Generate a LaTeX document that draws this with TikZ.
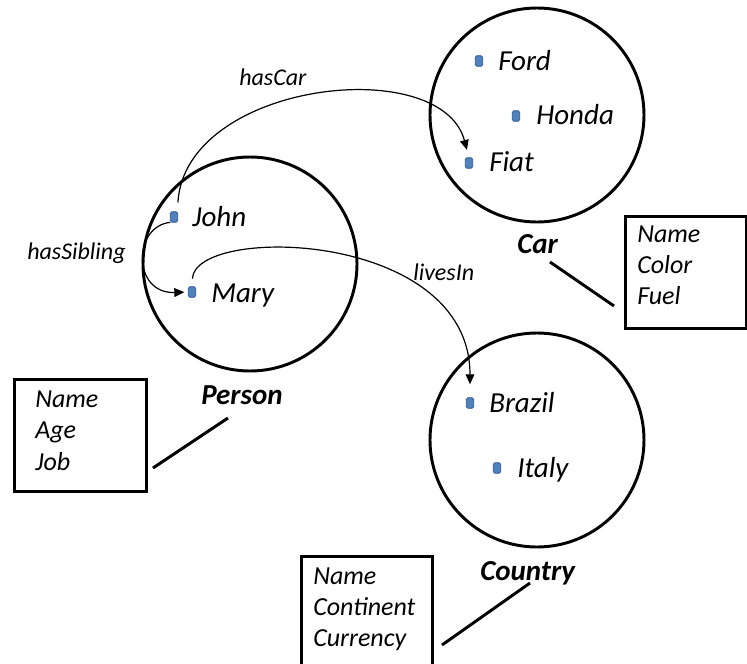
\documentclass[tikz,border=0pt]{standalone}
\usepackage{fontspec}
\setmainfont{Carlito}
\usetikzlibrary{arrows.meta}
\definecolor{bulletfill}{RGB}{79,129,189}
\definecolor{bulletedge}{RGB}{47,82,143}
\begin{document}
\begin{tikzpicture}[x=0.75pt,y=-0.75pt,
  setcircle/.style={circle,draw,line width=2.2pt,minimum size=160.5pt,inner sep=0pt},
  bullet/.style={rectangle,rounded corners=1.2pt,fill=bulletfill,draw=bulletedge,
    line width=0.6pt,minimum width=5.5pt,minimum height=8pt,inner sep=0pt,outer sep=0pt},
  item/.style={anchor=base west,inner sep=0pt,font=\fontsize{21.75}{26}\selectfont\itshape},
  relname/.style={anchor=base west,inner sep=0pt,font=\fontsize{18}{22}\selectfont\itshape},
  classname/.style={anchor=base west,inner sep=0pt,font=\fontsize{21.75}{26}\selectfont\bfseries\itshape},
  attrbox/.style={draw,line width=2.2pt,rectangle,anchor=north west,inner sep=0pt},
  attrtext/.style={anchor=base west,inner sep=0pt,font=\fontsize{19.5}{23}\selectfont\itshape},
  relation/.style={line width=0.9pt,-{Triangle[length=7.5pt,width=6.5pt]}},
  leader/.style={line width=2.2pt}
]
\useasboundingbox (0,0) rectangle (747,664);

% class extents
\node[setcircle] (carset) at (537,115) {};
\node[setcircle] (personset) at (250,264) {};
\node[setcircle] (countryset) at (537,440) {};

% members
\node[bullet] (ford) at (479,61) {};
\node[item] (fordtxt) at (498,70) {Ford};
\node[bullet] (honda) at (516,116) {};
\node[item] (hondatxt) at (536,124) {Honda};
\node[bullet] (fiat) at (469,163) {};
\node[item] (fiattxt) at (489,171) {Fiat};

\node[bullet] (john) at (174,217) {};
\node[item] (johntxt) at (192,226) {John};
\node[bullet] (mary) at (192,292) {};
\node[item] (marytxt) at (211,302) {Mary};

\node[bullet] (brazil) at (470,403) {};
\node[item] (braziltxt) at (489,412) {Brazil};
\node[bullet] (italy) at (497,468) {};
\node[item] (italytxt) at (517,477) {Italy};

% class names
\node[classname] (carname) at (517,253) {Car};
\node[classname] (personname) at (201,404) {Person};
\node[classname] (countryname) at (480,580) {Country};

% attribute boxes
\node[attrbox,minimum width=99pt,minimum height=84pt] (personattr) at (13,378) {};
\node[attrtext] (pa1) at (35,407) {Name};
\node[attrtext] (pa2) at (35,438) {Age};
\node[attrtext] (pa3) at (35,470) {Job};

\node[attrbox,minimum width=91pt,minimum height=84pt] (carattr) at (624,215) {};
\node[attrtext] (ca1) at (637,242) {Name};
\node[attrtext] (ca2) at (637,273) {Color};
\node[attrtext] (ca3) at (637,304) {Fuel};

\node[attrbox,minimum width=98pt,minimum height=90pt] (countryattr) at (300,555) {};
\node[attrtext] (ya1) at (313,584) {Name};
\node[attrtext] (ya2) at (313,615) {Continent};
\node[attrtext] (ya3) at (313,646) {Currency};

% leader lines from the class names to their attribute boxes
\coordinate (personleadA) at (153,468);
\coordinate (personleadB) at (228,418);
\coordinate (carleadA) at (550,262);
\coordinate (carleadB) at (614,306);
\coordinate (countryleadA) at (442,645);
\coordinate (countryleadB) at (530,583);
\draw[leader] (personleadA) -- (personleadB);
\draw[leader] (carleadA) -- (carleadB);
\draw[leader] (countryleadA) -- (countryleadB);

% relations
\draw[relation,shorten <=7pt,shorten >=6pt]
  ([xshift=2.5pt]john.north) .. controls +(8,-130) and +(-28,-105) .. (fiat.north);
\draw[relation,shorten >=3pt]
  (john.south west) .. controls +(-38,4) and +(-56,2) .. (mary.west);
\draw[relation,shorten <=6pt,shorten >=10pt]
  (mary.north) .. controls +(3,-62) and +(0,-168) .. (brazil.north);

\node[relname] (hascar) at (239,85) {hasCar};
\node[relname] (hassibling) at (27,259) {hasSibling};
\node[relname] (livesin) at (413,280) {livesIn};
\end{tikzpicture}
\end{document}
